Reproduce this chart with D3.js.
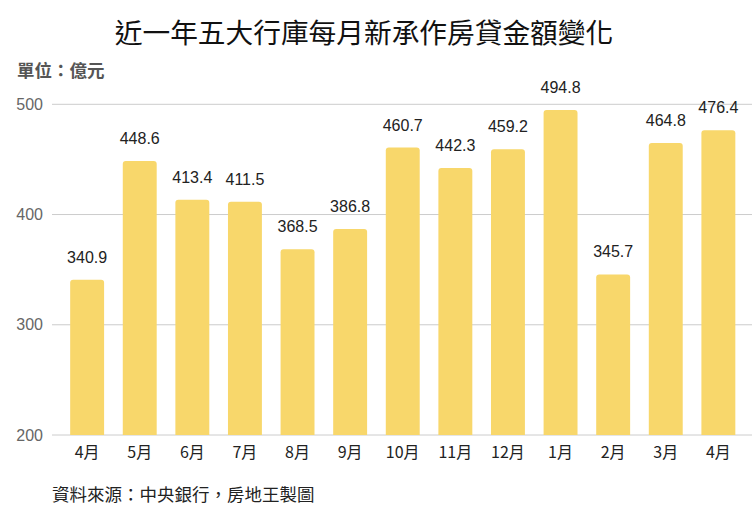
<!DOCTYPE html>
<html><head><meta charset="utf-8">
<script src="https://cdn.jsdelivr.net/npm/d3@7"></script>
<style>body{margin:0;background:#fff;}svg{display:block;}</style>
</head><body>
<svg id="c" width="752" height="506"></svg>
<script>
const months = ["4月","5月","6月","7月","8月","9月","10月","11月","12月","1月","2月","3月","4月"];
const values = [340.9,448.6,413.4,411.5,368.5,386.8,460.7,442.3,459.2,494.8,345.7,464.8,476.4];
const yTicks = [200,300,400,500];
const title = "近一年五大行庫每月新承作房貸金額變化";
const unit = "單位：億元";
const source = "資料來源：中央銀行，房地王製圖";

const font = "'Noto Sans CJK TC','Noto Sans',sans-serif";
const numFont = "'Helvetica','Liberation Sans',Arial,sans-serif";
const svg = d3.select("#c");
const keys = months.map((m,i)=>i);
const x = d3.scaleBand().domain(keys).range([60.7,744.8]).paddingInner(0.355).paddingOuter(0.18);
const y = d3.scaleLinear().domain([200,500]).range([435,104.3]);

svg.append("text").attr("x",364).attr("y",43).attr("text-anchor","middle")
  .attr("font-family",font).attr("font-size",27.7).attr("fill","#111").text(title);
svg.append("text").attr("x",17).attr("y",77).attr("font-family",font)
  .attr("font-size",17.5).attr("font-weight","bold").attr("fill","#555").text(unit);

const ya = svg.append("g");
ya.selectAll("line").data(yTicks).join("line")
  .attr("x1",52).attr("x2",752).attr("y1",d=>y(d)).attr("y2",d=>y(d))
  .attr("stroke","#ccc").attr("stroke-width",1);
ya.selectAll("text").data(yTicks).join("text")
  .attr("x",43).attr("y",d=>y(d)+5.5).attr("text-anchor","end")
  .attr("font-family",numFont).attr("font-size",16).attr("fill","#666").text(d=>d);

const bw = x.bandwidth();
svg.append("g").selectAll("path").data(keys).join("path")
  .attr("fill","#F8D76B")
  .attr("d",i=>{
    const x0=x(i), x1=x0+bw, t=y(values[i]), b=y(200), r=3;
    return `M${x0},${b}L${x0},${t+r}Q${x0},${t} ${x0+r},${t}L${x1-r},${t}Q${x1},${t} ${x1},${t+r}L${x1},${b}Z`;
  });

svg.append("g").selectAll("text").data(keys).join("text")
  .attr("x",i=>x(i)+bw/2).attr("y",i=>y(values[i])-17).attr("text-anchor","middle")
  .attr("font-family",numFont).attr("font-size",16).attr("fill","#222")
  .text(i=>values[i].toFixed(1));

svg.append("g").selectAll("text").data(keys).join("text")
  .attr("x",i=>x(i)+bw/2).attr("y",458).attr("text-anchor","middle")
  .attr("font-family",font).attr("font-size",16).attr("fill","#222").text(i=>months[i]);

svg.append("text").attr("x",52).attr("y",501).attr("font-family",font)
  .attr("font-size",17.5).attr("fill","#222").text(source);
</script>
</body></html>
